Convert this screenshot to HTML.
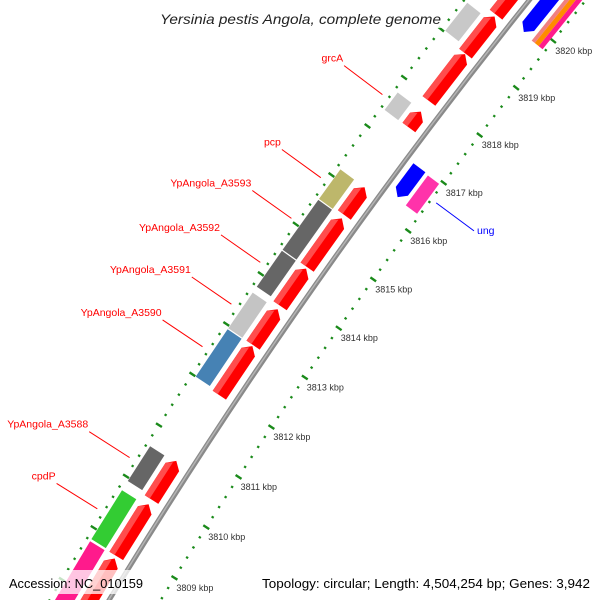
<!DOCTYPE html>
<html><head><meta charset="utf-8"><style>
html,body{margin:0;padding:0;background:#fff;overflow:hidden;}
svg{display:block;font-family:"Liberation Sans","DejaVu Sans",sans-serif;}
</style></head><body>
<svg id="map" width="600" height="600" viewBox="0 0 600 600" xmlns="http://www.w3.org/2000/svg">
<rect x="0" y="0" width="600" height="600" fill="#fff"/>
<g id="rulers"></g>
<g id="backbone"></g>
<g id="genes"></g>
<g id="labels"></g>
<rect x="155" y="6" width="290" height="22" fill="#fff" fill-opacity="0.75"/>
<text x="160" y="24" font-size="14" font-style="italic" fill="#222" textLength="281" lengthAdjust="spacingAndGlyphs">Yersinia pestis Angola, complete genome</text>
<rect x="4" y="570" width="144" height="24" fill="#fff" fill-opacity="0.75"/>
<text x="9" y="588" font-size="13" fill="#000" textLength="134" lengthAdjust="spacingAndGlyphs">Accession: NC_010159</text>
<rect x="257" y="570" width="338" height="24" fill="#fff" fill-opacity="0.75"/>
<text x="262" y="588" font-size="13" fill="#000" textLength="328" lengthAdjust="spacingAndGlyphs">Topology: circular; Length: 4,504,254 bp; Genes: 3,942</text>
</svg>
<script>
// ---- data (kbp) ----
const rulerStartKbp = 3807.6;
const rulerEndKbp = 3821.4;
const tickKbp = [3809,3810,3811,3812,3813,3814,3815,3816,3817,3818,3819,3820];
const tickLabels = ["3809 kbp","3810 kbp","3811 kbp","3812 kbp","3813 kbp","3814 kbp","3815 kbp","3816 kbp","3817 kbp","3818 kbp","3819 kbp","3820 kbp"];
const fwdStarts = [3806,3808.80,3809.90,3811.96,3812.96,3813.75,3814.53,3815.59,3817.39,3817.94,3818.93,3819.75];
const fwdEnds   = [3808.75,3809.81,3810.66,3812.94,3813.68,3814.50,3815.52,3816.16,3817.72,3818.92,3819.71,3821];
const outerNames  = ["magenta-gene","cpdP","YpAngola_A3588","YpAngola_A3590","YpAngola_A3591","YpAngola_A3592","YpAngola_A3593","pcp","grcA","gray-gene-top"];
const outerStarts = [3806,3808.82,3809.95,3812.00,3812.96,3813.79,3814.53,3815.56,3817.38,3819.02];
const outerEnds   = [3808.78,3809.77,3810.63,3812.94,3813.67,3814.51,3815.54,3816.16,3817.74,3819.61];
const outerColors = ["#ff1a8c","#33cc33","#666666","#4682b4","#c4c4c4","#666666","#666666","#bdb76b","#c8c8c8","#c8c8c8"];
const outerLabeled = [false,true,true,true,true,true,true,true,true,false];
const revStarts = [3816.35,3819.81];
const revEnds   = [3816.96,3821];
const revNames  = ["ung","blue-gene-top"];
const inner2Starts = [3816.32,3819.78,3819.78,3819.78];
const inner2Ends   = [3816.94,3821,3821,3821];
const inner2R1     = [-27,-27,-31,-36];
const inner2R2     = [-41,-31,-36,-41];
const inner2Colors = ["#ff33aa","#f08080","#ff8c00","#ff1a8c"];

// ---- geometry ----
const CX = 4929, CY = 3529, RB = 5640;
const A0 = 215.5, DEG_PER_KBP = 0.612, P0 = 3815;
function ang(p){ return (A0 + (p - P0) * DEG_PER_KBP) * Math.PI / 180; }
function pt(p, dr){ const a = ang(p), r = RB + dr; return [CX + r*Math.cos(a), CY + r*Math.sin(a)]; }
function ps(arr){ return arr.map(q => q[0].toFixed(1)+","+q[1].toFixed(1)).join(" "); }
const NS = "http://www.w3.org/2000/svg";
function mk(tag, parent){ const e = document.createElementNS(NS, tag); parent.appendChild(e); return e; }

const gR = document.getElementById("rulers");
const gB = document.getElementById("backbone");
const gG = document.getElementById("genes");
const gL = document.getElementById("labels");

// backbone
const bb1 = mk("circle", gB);


bb1.setAttribute("cx", CX); bb1.setAttribute("cy", CY); bb1.setAttribute("r", RB);
bb1.setAttribute("fill", "none"); bb1.setAttribute("stroke", "#8a8a8a"); bb1.setAttribute("stroke-width", "5");
const bb2 = mk("circle", gB);


bb2.setAttribute("cx", CX); bb2.setAttribute("cy", CY); bb2.setAttribute("r", RB + 0.5);
bb2.setAttribute("fill", "none"); bb2.setAttribute("stroke", "#b4b4b4"); bb2.setAttribute("stroke-width", "1.5");

// rulers
const rulerOffsets = [-44, 51];
for (let k = 0; k < rulerOffsets.length; k++) {
  const dr = rulerOffsets[k];
  for (let p = Math.ceil(rulerStartKbp*5); p <= Math.floor(rulerEndKbp*5); p++) {
    const v = p / 5;
    const major = (p % 5 === 0);
    const a = pt(v, dr + (major ? 3.5 : 1.2)), b = pt(v, dr - (major ? 3.5 : 1.2));
    const l = mk("line", gR);
    
    
    l.setAttribute("x1", a[0].toFixed(1)); l.setAttribute("y1", a[1].toFixed(1));
    l.setAttribute("x2", b[0].toFixed(1)); l.setAttribute("y2", b[1].toFixed(1));
    l.setAttribute("stroke", "#1a8a1a"); l.setAttribute("stroke-width", major ? "2.4" : "2.2");
  }
}
for (let i = 0; i < tickKbp.length; i++) {
  const q = pt(tickKbp[i], -44);
  const t = mk("text", gR);
  
  
  t.setAttribute("x", (q[0] + 2).toFixed(1)); t.setAttribute("y", (q[1] + 13).toFixed(1));
  t.setAttribute("font-size", "9"); t.setAttribute("fill", "#333");
  t.textContent = tickLabels[i];
}

// forward (red) arrows
const HEAD = 0.12;
for (let i = 0; i < fwdStarts.length; i++) {
  const s = fwdStarts[i], e = fwdEnds[i], r1 = 9, r2 = 25, h = Math.min(HEAD, (e - s) * 0.5);
  const poly = mk("polygon", gG);
  
  
  poly.setAttribute("points", ps([pt(s,r1), pt(e-h,r1), pt(e,(r1+r2)/2), pt(e-h,r2), pt(s,r2)]));
  poly.setAttribute("fill", "#ff0000");
  const hl = mk("polygon", gG);
  
  
  hl.setAttribute("points", ps([pt(s,19), pt(e-h*0.4,19), pt(e-h,r2), pt(s,r2)]));
  hl.setAttribute("fill", "#ff4d4d");
}

// outer-track boxes
for (let i = 0; i < outerStarts.length; i++) {
  const s = outerStarts[i], e = outerEnds[i];
  const poly = mk("polygon", gG);
  
  
  poly.setAttribute("points", ps([pt(s,30), pt(e,30), pt(e,47), pt(s,47)]));
  poly.setAttribute("fill", outerColors[i]);
  if (outerLabeled[i]) {
    const m = (s + e) / 2;
    const a = pt(m, 58), b = pt(m, 106);
    const ln = mk("line", gL);
    
    
    ln.setAttribute("x1", a[0].toFixed(1)); ln.setAttribute("y1", a[1].toFixed(1));
    ln.setAttribute("x2", b[0].toFixed(1)); ln.setAttribute("y2", b[1].toFixed(1));
    ln.setAttribute("stroke", "#ff0000"); ln.setAttribute("stroke-width", "1");
    const t = mk("text", gL);
    
    
    t.setAttribute("x", (b[0] - 1).toFixed(1)); t.setAttribute("y", (b[1] - 4).toFixed(1));
    t.setAttribute("text-anchor", "end"); t.setAttribute("font-size", "10.5"); t.setAttribute("fill", "#ff0000");
    t.textContent = outerNames[i];
  }
}

// inner second track boxes / stripes
for (let i = 0; i < inner2Starts.length; i++) {
  const s = inner2Starts[i], e = inner2Ends[i];
  const poly = mk("polygon", gG);
  
  
  poly.setAttribute("points", ps([pt(s,inner2R1[i]), pt(e,inner2R1[i]), pt(e,inner2R2[i]), pt(s,inner2R2[i])]));
  poly.setAttribute("fill", inner2Colors[i]);
}

// reverse (blue) arrows
for (let i = 0; i < revStarts.length; i++) {
  const s = revStarts[i], e = revEnds[i], r1 = -8, r2 = -23, h = 0.12;
  const poly = mk("polygon", gG);
  
  
  poly.setAttribute("points", ps([pt(s,(r1+r2)/2), pt(s+h,r1), pt(e,r1), pt(e,r2), pt(s+h,r2)]));
  poly.setAttribute("fill", "#0000ff");
  if (revNames[i] === "ung") {
    const m = (s + e) / 2;
    const a = pt(m, -50), b = pt(m, -97);
    const ln = mk("line", gL);
    
    
    ln.setAttribute("x1", a[0].toFixed(1)); ln.setAttribute("y1", a[1].toFixed(1));
    ln.setAttribute("x2", b[0].toFixed(1)); ln.setAttribute("y2", b[1].toFixed(1));
    ln.setAttribute("stroke", "#0000ff"); ln.setAttribute("stroke-width", "1");
    const t = mk("text", gL);
    
    
    t.setAttribute("x", (b[0] + 3).toFixed(1)); t.setAttribute("y", (b[1] + 3).toFixed(1));
    t.setAttribute("font-size", "10.5"); t.setAttribute("fill", "#0000ff");
    t.textContent = "ung";
  }
}
</script>
</body></html>
